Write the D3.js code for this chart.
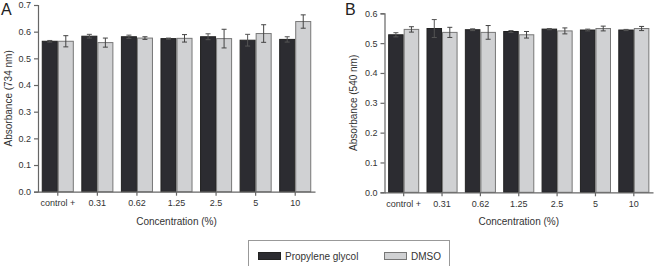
<!DOCTYPE html>
<html><head><meta charset="utf-8">
<script src="https://cdn.jsdelivr.net/npm/d3@7"></script>
<style>body{margin:0;background:#fff}svg{display:block;font-family:"Liberation Sans",Arial,sans-serif}</style>
</head><body><svg id="c" width="656" height="266"></svg>
<script>
const categories = ["control +","0.31","0.62","1.25","2.5","5","10"];
const seriesNames = ["Propylene glycol","DMSO"];
const aPG = [0.564,0.583,0.581,0.574,0.581,0.568,0.571];
const aPGerr = [0.003,0.007,0.006,0.002,0.011,0.022,0.010];
const aDMSO = [0.564,0.559,0.576,0.575,0.574,0.593,0.638];
const aDMSOerr = [0.021,0.017,0.005,0.014,0.035,0.033,0.025];
const bPG = [0.528,0.549,0.545,0.539,0.547,0.544,0.544];
const bPGerr = [0.007,0.030,0.003,0.003,0.002,0.003,0.002];
const bDMSO = [0.546,0.536,0.536,0.528,0.541,0.549,0.549];
const bDMSOerr = [0.009,0.017,0.023,0.011,0.010,0.008,0.007];
const aTicks = [0,0.1,0.2,0.3,0.4,0.5,0.6,0.7];
const bTicks = [0,0.1,0.2,0.3,0.4,0.5,0.6];

const svg = d3.select("#c");
const dark = "#2c2c31", light = "#d0d1d3", axisCol = "#666", textCol = "#333";

function panel(o){
  const g = svg.append("g");
  const x0 = d3.scaleBand().domain(categories).range([o.x0, o.x1]).paddingInner(0.19).paddingOuter(0.095);
  const x1 = d3.scaleBand().domain(seriesNames).range([0, x0.bandwidth()]);
  const y = d3.scaleLinear().domain([0, o.ymax]).range([o.yb, o.yt]);
  const series = [{name:seriesNames[0], v:o.pg, e:o.pge, fill:dark, stroke:"#222"},
                  {name:seriesNames[1], v:o.dm, e:o.dme, fill:light, stroke:"#777"}];
  series.forEach(s=>{
    const gg = g.append("g");
    gg.selectAll("rect").data(categories).join("rect")
      .attr("x", c=>x0(c)+x1(s.name)+0.5).attr("width", x1.bandwidth()-1)
      .attr("y", (c,i)=>y(s.v[i])).attr("height", (c,i)=>y(0)-y(s.v[i]))
      .attr("fill", s.fill).attr("stroke", s.stroke).attr("stroke-width",1);
    categories.forEach((c,i)=>{
      const cx = x0(c)+x1(s.name)+x1.bandwidth()/2;
      const top = y(s.v[i]+s.e[i]), bot = y(s.v[i]-s.e[i]);
      const col = s.name===seriesNames[0] ? "#555" : "#444";
      gg.append("line").attr("x1",cx).attr("x2",cx).attr("y1",top).attr("y2",bot).attr("stroke",col).attr("stroke-width",1);
      gg.append("line").attr("x1",cx-2.5).attr("x2",cx+2.5).attr("y1",top).attr("y2",top).attr("stroke",col);
      gg.append("line").attr("x1",cx-2.5).attr("x2",cx+2.5).attr("y1",bot).attr("y2",bot).attr("stroke",col);
    });
  });
  const ya = g.append("g").attr("transform",`translate(${o.x0},0)`)
    .call(d3.axisLeft(y).tickValues(o.ticks).tickFormat(d3.format(".1f")).tickSize(4).tickPadding(3));
  const xa = g.append("g").attr("transform",`translate(0,${o.yb})`)
    .call(d3.axisBottom(x0).tickSize(4).tickPadding(4).tickSizeOuter(0));
  [ya,xa].forEach(a=>{
    a.selectAll("path,line").attr("stroke",axisCol).attr("stroke-width",1.2);
    a.selectAll("text").attr("fill",textCol).style("font-size","9px").style("font-family","Liberation Sans, Arial, sans-serif");
  });
  g.append("text").attr("transform",`translate(${o.ytx},${(o.yt+o.yb)/2}) rotate(-90)`)
    .attr("text-anchor","middle").attr("dy","0.35em").attr("fill",textCol).style("font-size","10px").text(o.ytitle);
  g.append("text").attr("x",(o.x0+o.x1)/2).attr("y",o.yb+33).attr("text-anchor","middle")
    .attr("fill",textCol).style("font-size","10px").text("Concentration (%)");
  g.append("text").attr("x",o.lx).attr("y",15).attr("fill","#222").style("font-size","16px").text(o.label);
}

panel({x0:38,x1:315,yb:191.7,yt:5,ymax:0.7,ticks:aTicks,pg:aPG,pge:aPGerr,dm:aDMSO,dme:aDMSOerr,
  ytitle:"Absorbance (734 nm)",ytx:8,label:"A",lx:1});
panel({x0:384.5,x1:653,yb:192.3,yt:13.3,ymax:0.6,ticks:bTicks,pg:bPG,pge:bPGerr,dm:bDMSO,dme:bDMSOerr,
  ytitle:"Absorbance (540 nm)",ytx:353,label:"B",lx:345});

// legend
const lg = svg.append("g");
lg.append("rect").attr("x",248.5).attr("y",240.5).attr("width",201).attr("height",40).attr("fill","#fff").attr("stroke","#999");
const items = [{n:seriesNames[0],f:dark,s:"#222",x:258},{n:seriesNames[1],f:light,s:"#777",x:384}];
items.forEach(it=>{
  lg.append("rect").attr("x",it.x+0.5).attr("y",252.5).attr("width",22).attr("height",7).attr("fill",it.f).attr("stroke",it.s);
  lg.append("text").attr("x",it.x+27).attr("y",259.5).attr("fill",textCol).style("font-size","10px").text(it.n);
});
</script></body></html>
